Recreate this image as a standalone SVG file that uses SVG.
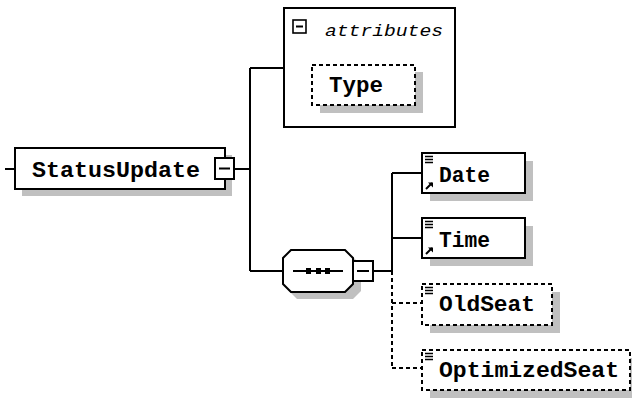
<svg xmlns="http://www.w3.org/2000/svg" width="632" height="398" viewBox="0 0 632 398">
<defs>
<style>
.box{fill:#fff;stroke:#000;stroke-width:2}
.dbox{fill:#fff;stroke:#000;stroke-width:2;stroke-dasharray:4 3}
.sh{fill:#c0c0c0}
.ln{fill:none;stroke:#000;stroke-width:2}
.dl{fill:none;stroke:#000;stroke-width:2;stroke-dasharray:4 3}
.lbl{font-family:"Liberation Mono",monospace;font-weight:bold;font-size:22px;fill:#000}
.it{font-family:"Liberation Mono",monospace;font-style:italic;font-size:16px;fill:#000}
</style>
<g id="eqicon"><path d="M0 0.5h8M0 3.5h8M0 6.5h8" stroke="#000" stroke-width="1.4" fill="none"/></g>
<g id="arricon"><path d="M1 8L7 2" stroke="#000" stroke-width="2"/><path d="M3 1.5h5v5z" fill="#000"/></g>
</defs>
<rect width="632" height="398" fill="#fff"/>
<g id="connectors">
<path class="ln" d="M5 169H15M234 169H250M250 68V271M250 68H284M250 271H283M373 271H392M392 173V271M392 173H422M392 238H422"/>
<path class="dl" d="M392 271V368M392 303H422M392 368H422"/>
</g>
<g id="StatusUpdate">
<rect class="sh" x="22" y="155" width="210" height="41"/>
<rect class="box" x="15" y="148" width="210" height="41"/>
<text class="lbl" x="32" y="177" textLength="168" lengthAdjust="spacingAndGlyphs">StatusUpdate</text>
<rect class="box" x="215" y="158" width="19" height="21"/>
<path class="ln" d="M219 168.5H230"/>
</g>
<g id="attributes">
<rect class="box" x="284" y="8" width="171" height="119"/>
<rect fill="#fff" stroke="#000" stroke-width="1.6" x="293" y="20" width="13" height="13"/>
<path class="ln" d="M296 26.5H303" stroke-width="1.6"/>
<text class="it" x="325" y="36" textLength="118" lengthAdjust="spacingAndGlyphs">attributes</text>
</g>
<g id="Type">
<rect class="sh" x="320" y="72" width="103" height="41"/>
<rect class="dbox" x="312" y="65" width="103" height="40"/>
<text class="lbl" x="329" y="92" textLength="54" lengthAdjust="spacingAndGlyphs">Type</text>
</g>
<g id="sequence">
<polygon class="sh" points="297,257 353,257 361,265 361,291 353,299 297,299 289,291 289,265"/>
<polygon class="box" points="291,250 345,250 353,258 353,284 345,292 291,292 283,284 283,258"/>
<path class="ln" d="M293 271H343"/>
<rect x="306" y="268" width="5" height="6" fill="#000"/>
<rect x="316" y="268" width="5" height="6" fill="#000"/>
<rect x="325" y="268" width="5" height="6" fill="#000"/>
<rect class="box" x="353" y="261" width="20" height="20"/>
<path class="ln" d="M357 271H369"/>
</g>
<g id="Date">
<rect class="sh" x="430" y="161" width="103" height="40"/>
<rect class="box" x="422" y="153" width="103" height="40"/>
<use href="#eqicon" x="425" y="156"/>
<use href="#arricon" x="425" y="181"/>
<text class="lbl" x="439" y="182" textLength="51" lengthAdjust="spacingAndGlyphs">Date</text>
</g>
<g id="Time">
<rect class="sh" x="430" y="226" width="103" height="40"/>
<rect class="box" x="422" y="218" width="103" height="40"/>
<use href="#eqicon" x="425" y="221"/>
<use href="#arricon" x="425" y="246"/>
<text class="lbl" x="439" y="247" textLength="51" lengthAdjust="spacingAndGlyphs">Time</text>
</g>
<g id="OldSeat">
<rect class="sh" x="430" y="292" width="130" height="41"/>
<rect class="dbox" x="422" y="284" width="130" height="41"/>
<use href="#eqicon" x="425" y="287"/>
<text class="lbl" x="439" y="311" textLength="96" lengthAdjust="spacingAndGlyphs">OldSeat</text>
</g>
<g id="OptimizedSeat">
<rect class="sh" x="430" y="358" width="210" height="40"/>
<rect class="dbox" x="422" y="350" width="208" height="40"/>
<use href="#eqicon" x="425" y="353"/>
<text class="lbl" x="439" y="377" textLength="180" lengthAdjust="spacingAndGlyphs">OptimizedSeat</text>
</g>
</svg>
